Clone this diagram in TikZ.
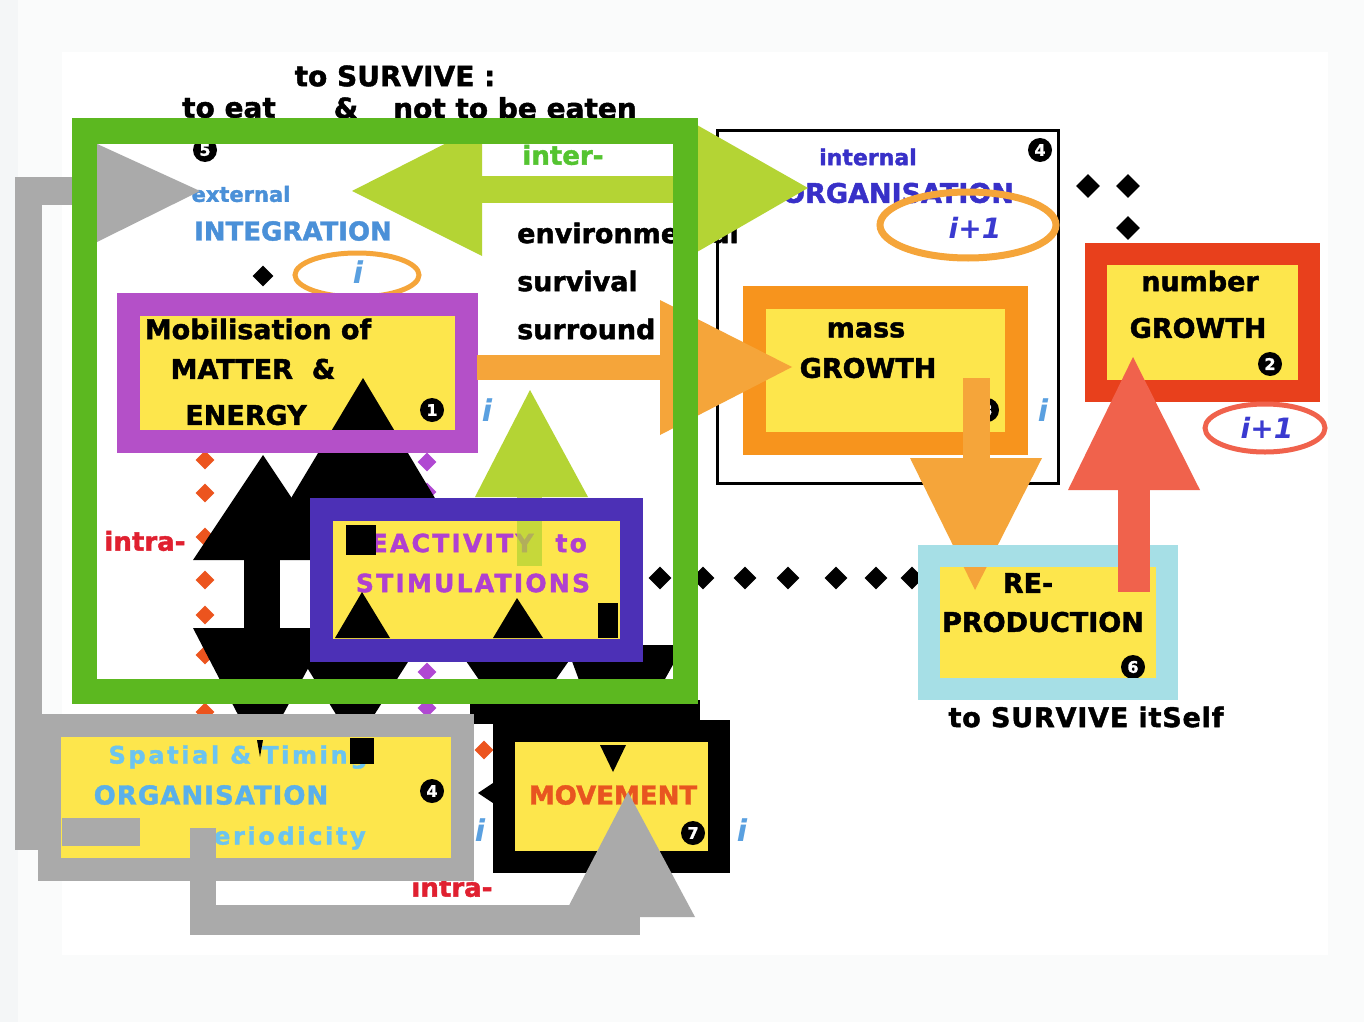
\documentclass[tikz,border=0pt]{standalone}
\usepackage{fontspec}
\setmainfont{DejaVu Sans}[BoldFeatures={FakeBold=1.6}]
\usetikzlibrary{shapes.geometric}

\definecolor{pagebg}{RGB}{244,246,247}
\definecolor{panelbg}{RGB}{250,251,251}
\definecolor{grn}{RGB}{92,184,32}
\definecolor{intergrn}{RGB}{84,196,48}
\definecolor{lime}{RGB}{180,212,52}
\definecolor{ylw}{RGB}{253,230,76}
\definecolor{mauve}{RGB}{180,80,200}
\definecolor{indig}{RGB}{76,48,182}
\definecolor{magt}{RGB}{176,64,208}
\definecolor{gry}{RGB}{170,170,170}
\definecolor{orng}{RGB}{247,148,29}
\definecolor{orngl}{RGB}{245,165,58}
\definecolor{redb}{RGB}{232,64,28}
\definecolor{redl}{RGB}{240,98,76}
\definecolor{cyn}{RGB}{166,223,230}
\definecolor{blueint}{RGB}{74,144,216}
\definecolor{blueorg}{RGB}{56,48,200}
\definecolor{skyb}{RGB}{108,196,240}
\definecolor{orgsky}{RGB}{90,176,234}
\definecolor{intrared}{RGB}{224,32,48}
\definecolor{movred}{RGB}{232,85,32}
\definecolor{dotred}{RGB}{236,84,30}
\definecolor{dotpur}{RGB}{176,72,210}
\definecolor{iblue}{RGB}{90,160,224}
\definecolor{ipl}{RGB}{58,58,208}

\tikzset{
  fs/.style={inner sep=0pt, font={\bfseries\fontsize{#1}{#1}\selectfont}},
  tracked/.style 2 args={inner sep=0pt,
    font={\bfseries\fontsize{#1}{#1}\selectfont\addfontfeature{LetterSpace=#2}}},
  numdot/.style={circle, fill=black, text=white, inner sep=0pt, minimum size=24pt,
    font={\bfseries\fontsize{16}{16}\selectfont}},
  dia/.style={diamond, fill=#1, inner sep=0pt, minimum size=21pt},
  dia/.default=black,
  iglyph/.style={inner sep=0pt, text=iblue, font={\bfseries\itshape\fontsize{30}{30}\selectfont}},
  ipone/.style={inner sep=0pt, text=ipl, font={\bfseries\itshape\fontsize{28}{28}\selectfont}},
  boxrim/.style={line width=23pt},
}

\begin{document}
\begin{tikzpicture}[x=1pt,y=-1pt]
\useasboundingbox (0,0) rectangle (1364,1022);

% page and panel
\fill[pagebg] (0,0) rectangle (1364,1022);
\fill[panelbg] (18,0) rectangle (1364,1022);
\fill[white] (62,52) rectangle (1328,955);

% heading
\node[fs=28] (surv) at (395,76) {to SURVIVE :};
\node[fs=28] (eat) at (229,108) {to eat};
\node[fs=28] (amp) at (346,108) {\&};
\node[fs=28] (noteat) at (515,108) {not to be eaten};

% internal organisation frame
\draw[line width=3pt] (717,130) rectangle (1058,483);
\node[fs=22, text=blueorg] (internal) at (868,157) {internal};
\node[fs=27, text=blueorg] (intorg) at (898,193) {ORGANISATION};
\node[numdot] (n4a) at (1040,150) {4};

% external integration and environment words
\node[fs=21, text=blueint] (external) at (241,194) {external};
\node[fs=26, text=blueint] (integ) at (293,231) {INTEGRATION};
\node[fs=26, text=intergrn] (inter) at (563,155) {inter-};
\node[fs=27, anchor=west] (envir) at (517,233) {environmental};
\node[fs=27, anchor=west] (surviv) at (517,281) {survival};
\node[fs=27, anchor=west] (surr) at (517,329) {surround};
\node[numdot] (n5) at (205,150) {5};

% grey feedback arrow on the left
\fill[gry] (15,177) rectangle (42,850);
\fill[gry] (15,177) rectangle (110,205);
\fill[gry] (95,143) -- (200,191) -- (95,243) -- cycle;

% lime double arrow (inter-environmental)
\fill[lime] (470,176) rectangle (700,203);
\fill[lime] (482,125) -- (352,191) -- (482,256) -- cycle;
\fill[lime] (697,125) -- (808,188) -- (697,252) -- cycle;

% i+1 ring on the internal organisation
\draw[orngl, line width=7pt] (968,225) ellipse (88 and 33);
\node[ipone] (ip1a) at (975,228) {i+1};

% ring and marker by integration
\node[dia] (d0) at (263,276) {};
\draw[orngl, line width=5pt] (357,275) ellipse (62 and 22);
\node[iglyph] (i0) at (358,272) {i};

% dotted lines of diamonds
\foreach \yy [count=\k] in {460,493,537,580,615,655,712}
  \node[dia=dotred, minimum size=19pt] (rd\k) at (205,\yy) {};
\foreach \yy [count=\k] in {462,492,672,708}
  \node[dia=dotpur, minimum size=19pt] (pd\k) at (427,\yy) {};
\node[dia=dotred, minimum size=19pt] (rdm) at (484,750) {};

% matter & energy ground and words
\fill[ylw] (128,304) rectangle (466,441);
\node[fs=27] (mob) at (258,329) {Mobilisation of};
\node[fs=27] (matter) at (253,369) {MATTER \ \&};
\node[fs=27] (energy) at (246,415) {ENERGY};
\node[numdot] (n1) at (432,410) {1};

% black two-way arrows rising from the lower boxes
\fill[black] (193,560) -- (263,455) -- (333,560) -- cycle;
\fill[black] (244,556) rectangle (280,632);
\fill[black] (193,628) -- (330,628) -- (260,757) -- cycle;
\fill[black] (263,545) -- (363,378) -- (463,545) -- cycle;
\fill[black] (290,640) -- (422,640) -- (355,745) -- cycle;
\fill[black] (455,645) -- (580,645) -- (517,735) -- cycle;
\fill[black] (566,645) -- (684,645) -- (613,772) -- cycle;
\fill[black] (470,700) -- (700,700) -- (700,724) -- (470,724) -- cycle;

% other box grounds
\fill[ylw] (321,509) rectangle (631,650);
\fill[ylw] (49,725) rectangle (462,869);
\fill[ylw] (504,731) rectangle (719,862);
\fill[ylw] (754,297) rectangle (1016,443);
\fill[ylw] (1096,254) rectangle (1309,391);
\fill[ylw] (929,556) rectangle (1167,689);

% box texts
\node[tracked={25}{9}, text=magt] (react) at (468,543) {REACTIVITY \ to};
\node[tracked={25}{9}, text=magt] (stim) at (473,583) {STIMULATIONS};

\node[tracked={24}{11}, text=skyb] (spat) at (238,757) {Spatial \& Timing};
\node[tracked={26}{4}, text=orgsky] (sporg) at (211,795) {ORGANISATION};
\node[tracked={24}{11}, text=skyb] (period) at (280,838) {periodicity};
\node[numdot] (n4b) at (432,791) {4};

\node[fs=26, text=movred] (move) at (613,795) {MOVEMENT};
\node[numdot] (n7) at (693,833) {7};

\node[fs=27] (mass) at (866,330) {mass};
\node[fs=27] (mgrow) at (868,368) {GROWTH};
\node[numdot] (n3) at (987,410) {3};

\node[fs=27] (number) at (1200,281) {number};
\node[fs=27] (ngrow) at (1198,328) {GROWTH};
\node[numdot] (n2) at (1270,364) {2};

\node[fs=27] (re) at (1028,583) {RE-};
\node[fs=27] (prod) at (1043,622) {PRODUCTION};
\node[numdot] (n6) at (1133,667) {6};
\node[tracked={27}{3}] (itself) at (1086,717) {to SURVIVE itSelf};

\node[fs=26, text=intrared] (intra1) at (145,541) {intra-};
\node[fs=26, text=intrared] (intra2) at (452,887) {intra-};

\node[iglyph] (i1) at (487,410) {i};
\node[iglyph] (i2) at (1043,410) {i};
\node[iglyph] (i3) at (480,830) {i};
\node[iglyph] (i4) at (742,830) {i};

% arrow tips reaching into the lower boxes and the reactivity box
\fill[black] (257,740) -- (263,740) -- (260,757) -- cycle;
\fill[black] (350,738) rectangle (374,764);
\fill[black] (600,745) -- (626,745) -- (613,772) -- cycle;
\fill[black] (335,638) -- (362,592) -- (390,638) -- cycle;
\fill[black] (493,638) -- (517,598) -- (543,638) -- cycle;
\fill[black] (346,525) rectangle (376,555);
\fill[black] (598,603) rectangle (618,638);
\fill[black] (478,793) -- (502,777) -- (502,809) -- cycle;

% lime arrow up into integration
\fill[lime] (475,497) -- (530,390) -- (588,497) -- cycle;
\fill[lime, opacity=0.75] (517,495) rectangle (542,566);

% box rims
\draw[mauve, boxrim] (128,304) rectangle (466,441);
\draw[indig, boxrim] (321,509) rectangle (631,650);
\draw[gry, boxrim] (49,725) rectangle (462,869);
\draw[black, line width=22pt] (504,731) rectangle (719,862);
\draw[orng, boxrim] (754,297) rectangle (1016,443);
\draw[redb, line width=22pt] (1096,254) rectangle (1309,391);

% orange arrow: matter & energy to mass growth
\fill[orngl] (477,355) rectangle (665,380);
\fill[orngl] (660,300) -- (792,367) -- (660,435) -- cycle;

% orange arrow: mass growth down to reproduction
\fill[orngl] (963,378) rectangle (990,460);
\fill[orngl] (910,458) -- (1042,458) -- (975,590) -- cycle;

% dotted link to reproduction
\foreach \xx [count=\k] in {660,703,745,788,836,876,912}
  \node[dia, minimum size=23pt] (hd\k) at (\xx,578) {};

\draw[cyn, line width=22pt] (929,556) rectangle (1167,689);

% red arrow: reproduction up to number growth
\fill[redl] (1118,480) rectangle (1150,592);
\fill[redl] (1068,490) -- (1133,357) -- (1200,490) -- cycle;
\draw[redl, line width=5pt] (1265,428) ellipse (60 and 24);
\node[ipone] (ip1b) at (1267,428) {i+1};

\node[dia, minimum size=24pt] (k1) at (1088,186) {};
\node[dia, minimum size=24pt] (k2) at (1128,186) {};
\node[dia, minimum size=24pt] (k3) at (1128,228) {};

% grey arrow: spatial organisation round to movement
\fill[gry] (62,818) rectangle (140,846);
\fill[gry] (190,828) rectangle (216,935);
\fill[gry] (190,905) rectangle (640,935);
\fill[gry] (563,917) -- (628,792) -- (695,917) -- cycle;

% the big integration frame
\draw[grn, line width=25pt] (84,131) rectangle (685,691);

\end{tikzpicture}
\end{document}
